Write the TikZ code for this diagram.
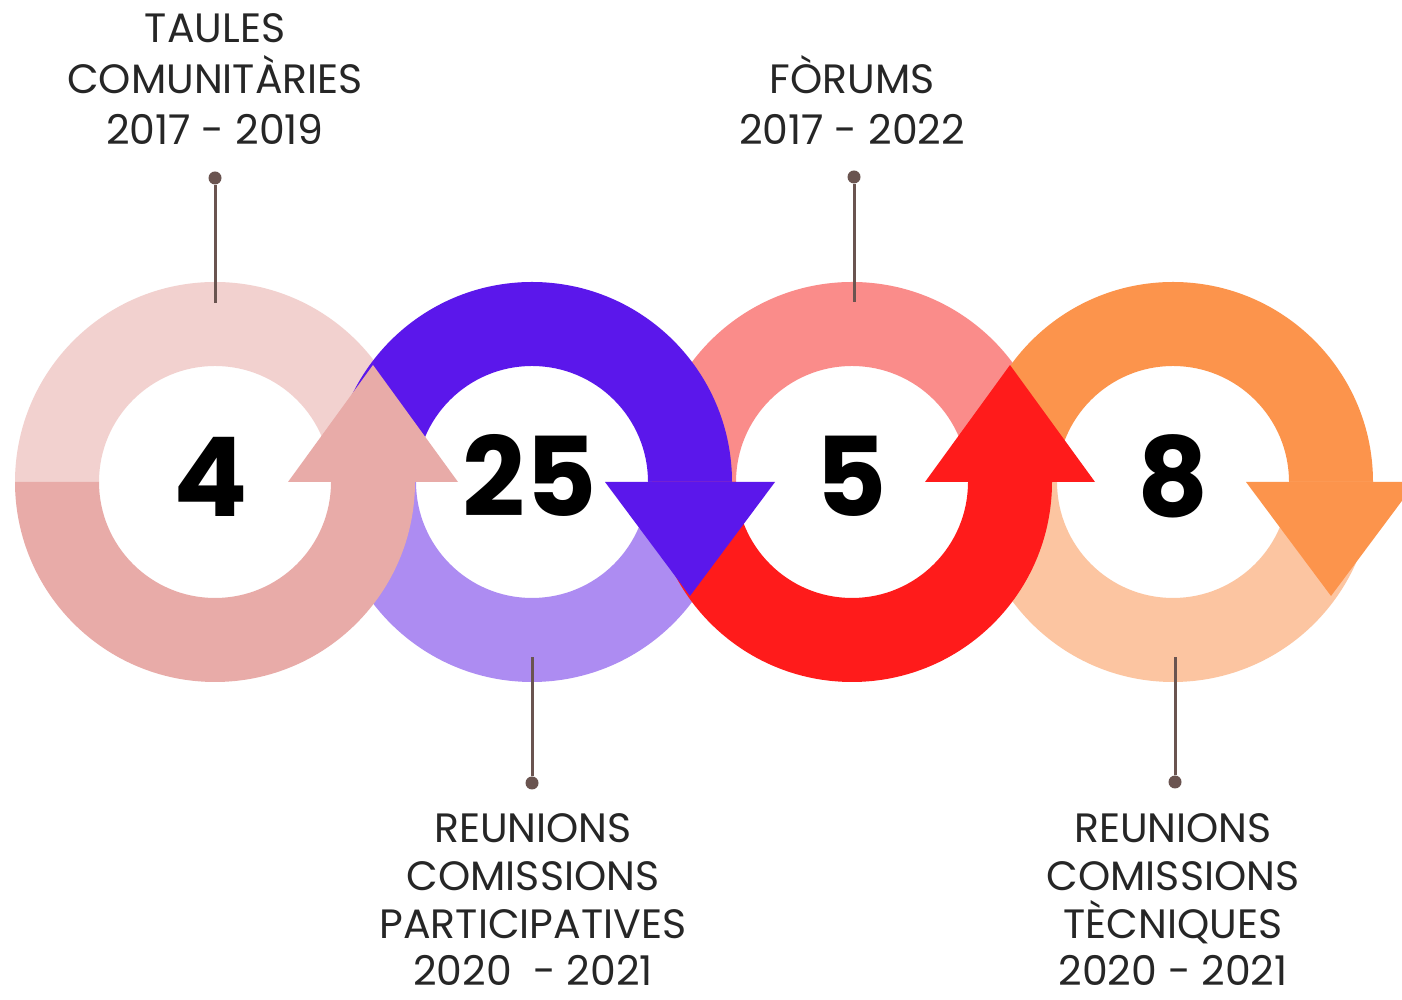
\documentclass[tikz,border=0pt]{standalone}
\usepackage{fontspec}
\setmainfont{Poppins}
\usetikzlibrary{calc}
\definecolor{rAtop}{HTML}{F2D1CF}
\definecolor{rAbot}{HTML}{E8ABA8}
\definecolor{rBtop}{HTML}{5B17EB}
\definecolor{rBbot}{HTML}{AD8CF2}
\definecolor{rCtop}{HTML}{FA8C8A}
\definecolor{rCbot}{HTML}{FF1B1B}
\definecolor{rDtop}{HTML}{FC944C}
\definecolor{rDbot}{HTML}{FCC5A1}
\definecolor{lnc}{HTML}{6A5450}
\definecolor{txc}{HTML}{262626}
\newcommand\ringhalf[4]{%
  \fill[#4] (#1,518) ++(#2:200) arc[start angle=#2, end angle=#3, radius=200]
    -- ($(#1,518)+(#3:116)$) arc[start angle=#3, end angle=#2, radius=116] -- cycle;}
\begin{document}
\begin{tikzpicture}[x=1pt,y=1pt,
  lbl/.style={anchor=base, inner sep=0pt, text=txc, font=\fontsize{41}{50}\selectfont},
  num/.style={anchor=base, inner sep=0pt, text=black, font=\fontsize{110}{110}\selectfont\bfseries},
  conn/.style={draw=lnc, line width=3pt},
  dotn/.style={circle, fill=lnc, draw=none, inner sep=0pt, minimum size=13pt}]
\useasboundingbox (0,0) rectangle (1402,1000);
\clip (0,0) rectangle (1402,1000);
\fill[white] (0,0) rectangle (1402,1000);
% top halves
\ringhalf{852}{180}{0}{rCtop}
\ringhalf{215}{180}{0}{rAtop}
\ringhalf{532}{180}{0}{rBtop}
\ringhalf{1173}{180}{0}{rDtop}
% bottom halves
\ringhalf{532}{180}{360}{rBbot}
\ringhalf{215}{180}{360}{rAbot}
\ringhalf{1173}{180}{360}{rDbot}
\ringhalf{852}{180}{360}{rCbot}
% arrow heads
\fill[rAbot] (288,518) -- (458,518) -- (373,635) -- cycle;
\fill[rBtop] (605,518) -- (775,518) -- (690,404) -- cycle;
\fill[rCbot] (925,518) -- (1095,518) -- (1010,635) -- cycle;
\fill[rDtop] (1246,518) -- (1416,518) -- (1331,404) -- cycle;
% numbers
\node[num] (n1) at (211,483) {4};
\node[num] (n2) at (530,483) {25};
\node[num] (n3) at (851,483) {5};
\node[num] (n4) at (1173,483) {8};
% connectors
\node[dotn] (d1) at (215,822) {};
\coordinate (e1) at (215,697);
\draw[conn] (d1) -- (e1);
\node[dotn] (d3) at (854,823) {};
\coordinate (e3) at (854,698);
\draw[conn] (d3) -- (e3);
\node[dotn] (d2) at (532,217) {};
\coordinate (e2) at (532,343);
\draw[conn] (d2) -- (e2);
\node[dotn] (d4) at (1175,218) {};
\coordinate (e4) at (1175,343);
\draw[conn] (d4) -- (e4);
% labels
\node[lbl] (a1) at (215,957) {TAULES};
\node[lbl] (a2) at (215,906) {COMUNITÀRIES};
\node[lbl] (a3) at (215,855) {2017 - 2019};
\node[lbl] (c1) at (852,906) {FÒRUMS};
\node[lbl] (c2) at (852,855) {2017 - 2022};
\node[lbl] (b1) at (533,157) {REUNIONS};
\node[lbl] (b2) at (533,109) {COMISSIONS};
\node[lbl] (b3) at (533,61) {PARTICIPATIVES};
\node[lbl] (b4) at (533,14) {2020\hspace{0.25em} - 2021};
\node[lbl] (f1) at (1173,157) {REUNIONS};
\node[lbl] (f2) at (1173,109) {COMISSIONS};
\node[lbl] (f3) at (1173,61) {TÈCNIQUES};
\node[lbl] (f4) at (1173,14) {2020 - 2021};
\end{tikzpicture}
\end{document}
